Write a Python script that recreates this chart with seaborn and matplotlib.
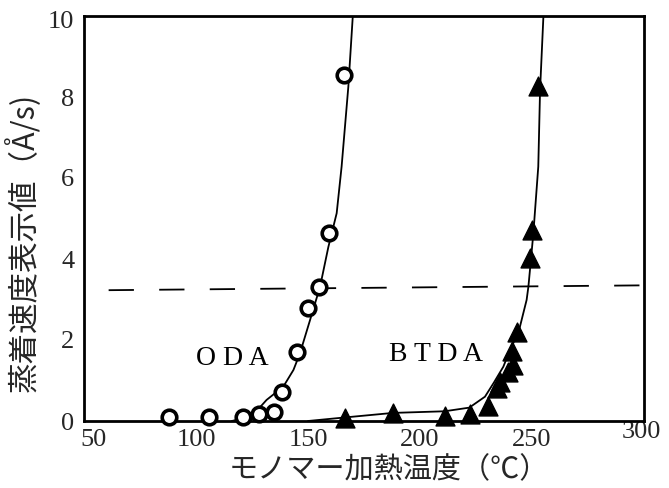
import matplotlib
matplotlib.use("Agg")
import matplotlib.pyplot as plt
import matplotlib.transforms as mtrans
import seaborn as sns
import pandas as pd

# ---- data ----
oda_temp = [88, 106, 121, 128, 135, 138.5, 145, 150, 155, 159.5, 166]
oda_rate = [0.1, 0.1, 0.11, 0.17, 0.23, 0.72, 1.71, 2.8, 3.32, 4.65, 8.55]

btda_temp = [166.5, 188, 211, 222.3, 230.5, 234.2, 235.5, 239.4, 241.6, 240.9, 243.1, 249.1, 250.1, 252.8]
btda_rate = [0.07, 0.19, 0.12, 0.17, 0.37, 0.82, 0.97, 1.22, 1.38, 1.72, 2.2, 4.02, 4.72, 8.27]

oda_curve_temp = [116, 125, 131.5, 139, 143.5, 146.4, 150.9, 155.4, 159.1, 162.8, 165, 168, 170]
oda_curve_rate = [0.0, 0.12, 0.52, 0.85, 1.26, 1.67, 2.49, 3.32, 4.3, 5.13, 6.28, 8.25, 10.0]

btda_curve_temp = [150, 165, 188, 211, 222, 229, 233, 237.2, 240.5, 243.9, 247.6, 248.4, 250.6, 252.8, 253.6, 255.1]
btda_curve_rate = [0.0, 0.08, 0.2, 0.24, 0.33, 0.6, 0.95, 1.34, 1.8, 2.17, 2.99, 3.32, 4.63, 6.28, 8.17, 10.0]

ref_temp = [61, 301]
ref_rate = [3.23, 3.35]

x_ticks = [50, 100, 150, 200, 250, 300]
y_ticks = [0, 2, 4, 6, 8, 10]
x_label = "モノマー加熱温度（℃）"
y_label = "蒸着速度表示値（Å/s)"
labels = ["O D A", "B T D A"]
label_pos_temp = [116, 207]
label_pos_rate = [1.55, 1.65]

sns.set_style("white")
plt.rcParams['font.family'] = ['Liberation Serif', 'DejaVu Serif']
cjk = ['Noto Sans CJK JP', 'DejaVu Sans']

fig = plt.figure(figsize=(6.69, 4.88), dpi=100)
ax = fig.add_axes([84/669, 1-421/488, 560/669, 405/488])

oda_df = pd.DataFrame({"t": oda_temp, "r": oda_rate})
btda_df = pd.DataFrame({"t": btda_temp, "r": btda_rate})
oda_c = pd.DataFrame({"t": oda_curve_temp, "r": oda_curve_rate})
btda_c = pd.DataFrame({"t": btda_curve_temp, "r": btda_curve_rate})
ref_df = pd.DataFrame({"t": ref_temp, "r": ref_rate})

sns.lineplot(data=oda_c, x="t", y="r", sort=False, color="black", lw=1.3, ax=ax, zorder=2)
sns.lineplot(data=btda_c, x="t", y="r", sort=False, color="black", lw=1.3, ax=ax, zorder=2)
sns.lineplot(data=ref_df, x="t", y="r", sort=False, color="black", lw=1.3,
             linestyle=(0, (14, 14)), ax=ax, zorder=2, clip_on=False)

sns.scatterplot(data=oda_df, x="t", y="r", marker="o", s=110, facecolor="white",
                edgecolor="black", linewidth=2.6, ax=ax, zorder=3, clip_on=False)
sns.scatterplot(data=btda_df, x="t", y="r", marker="^", s=185, color="black",
                edgecolor="black", linewidth=1, ax=ax, zorder=3, clip_on=False)

for txt, tx, ty in zip(labels, label_pos_temp, label_pos_rate):
    ax.text(tx, ty, txt, ha="center", va="center", fontsize=20, color="black",
            family=['Liberation Serif', 'DejaVu Serif'])

ax.set_xlim(50, 300)
ax.set_ylim(0, 10)
ax.set_xticks(x_ticks)
ax.set_yticks(y_ticks)
ax.set_xticklabels([str(v) for v in x_ticks])
ax.set_yticklabels([str(v) for v in y_ticks])
ax.tick_params(direction="in", length=5, width=1.5, labelsize=19)
ax.tick_params(axis="x", pad=6)
ax.tick_params(axis="y", pad=7)
for sp in ax.spines.values():
    sp.set_linewidth(2)
    sp.set_color("black")

# small offsets of end labels as in the reference
xl = ax.get_xticklabels()
xl[0].set_transform(xl[0].get_transform() + mtrans.ScaledTranslation(0.09, 0, fig.dpi_scale_trans))
xl[-1].set_transform(xl[-1].get_transform() + mtrans.ScaledTranslation(-0.03, 0.08, fig.dpi_scale_trans))
yl = ax.get_yticklabels()
yl[-1].set_transform(yl[-1].get_transform() + mtrans.ScaledTranslation(0, -0.04, fig.dpi_scale_trans))

ax.set_xlabel(x_label, fontsize=21, family=cjk)
ax.set_ylabel(y_label, fontsize=22, family=cjk)
ax.xaxis.set_label_coords(0.545, -0.084)
ax.yaxis.set_label_coords(-0.077, 0.44)

fig.savefig("out.png", dpi=100)
